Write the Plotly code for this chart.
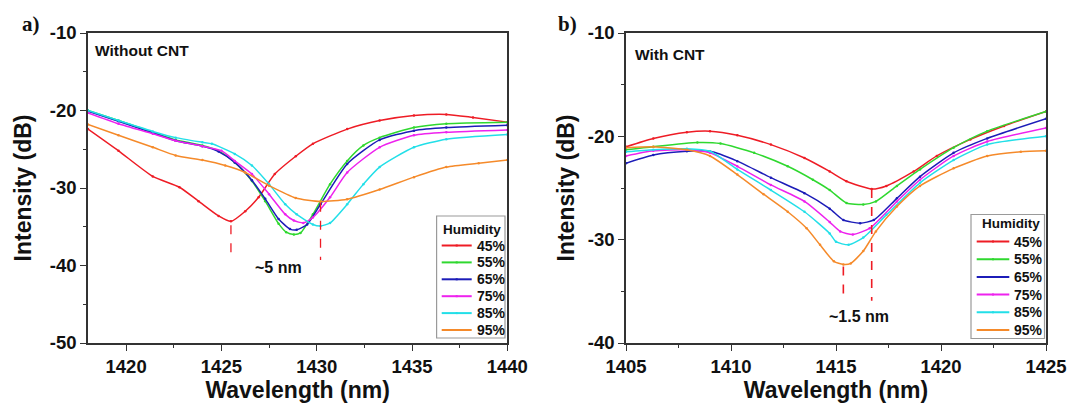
import plotly.graph_objects as go

# ---------------- data : panel a) Without CNT ----------------
humidity = ["45%", "55%", "65%", "75%", "85%", "95%"]
colors = ["#ee1c25", "#2fd82f", "#1c1cb8", "#ee22ee", "#22dfe8", "#f58a2a"]

a_x_45 = [1418, 1419.6, 1421.4, 1422.8, 1423.8, 1424.85, 1425.5, 1426.25, 1426.95, 1427.8, 1428.9, 1429.8, 1431.6, 1433.3, 1435.1, 1436.8, 1438.2, 1440]
a_y_45 = [-22.4, -25.2, -28.5, -29.9, -31.7, -33.6, -34.3, -33.0, -31.2, -28.2, -25.9, -24.3, -22.4, -21.3, -20.65, -20.5, -20.9, -21.5]

a_x_55 = [1418, 1419.6, 1421.4, 1422.6, 1424.0, 1424.85, 1425.7, 1426.6, 1427.3, 1428.0, 1428.4, 1428.8, 1429.15, 1429.8, 1430.7, 1431.6, 1432.45, 1433.3, 1435.1, 1436.8, 1440]
a_y_55 = [-20.0, -21.3, -22.8, -23.8, -24.5, -25.2, -26.7, -29.1, -31.7, -34.6, -35.7, -36.0, -35.8, -33.4, -29.5, -26.5, -24.5, -23.5, -22.2, -21.7, -21.5]

a_x_65 = [1418, 1419.6, 1421.4, 1422.6, 1424.0, 1424.85, 1425.7, 1426.6, 1427.3, 1428.0, 1428.6, 1428.95, 1429.5, 1430.2, 1431.6, 1433.3, 1435.1, 1436.8, 1440]
a_y_65 = [-20.1, -21.4, -22.9, -23.9, -24.6, -25.3, -26.7, -29.0, -31.4, -34.0, -35.3, -35.4, -34.7, -32.1, -26.9, -23.8, -22.6, -22.2, -21.9]

a_x_75 = [1418, 1419.6, 1421.4, 1422.6, 1424.0, 1425.0, 1425.7, 1426.6, 1427.5, 1428.35, 1428.8, 1429.3, 1429.8, 1430.7, 1431.6, 1433.3, 1435.1, 1436.8, 1440]
a_y_75 = [-20.3, -21.7, -23.0, -23.9, -24.6, -25.2, -26.5, -28.2, -30.8, -33.4, -34.2, -34.5, -33.8, -31.2, -28.0, -24.75, -23.2, -22.8, -22.5]

a_x_85 = [1418, 1419.6, 1421.4, 1422.6, 1424.0, 1424.5, 1425.7, 1426.6, 1427.5, 1428.35, 1428.95, 1429.8, 1430.2, 1430.7, 1431.6, 1432.45, 1433.3, 1435.1, 1436.8, 1440]
a_y_85 = [-20.0, -21.3, -22.7, -23.5, -24.1, -24.3, -25.6, -27.1, -29.5, -32.1, -33.4, -34.7, -34.9, -34.5, -32.1, -29.5, -27.3, -24.75, -23.7, -23.1]

a_x_95 = [1418, 1419.6, 1421.4, 1422.6, 1424.0, 1425.2, 1426.25, 1427.5, 1428.9, 1430.2, 1431.6, 1433.3, 1435.1, 1436.8, 1438.5, 1440]
a_y_95 = [-21.8, -23.2, -24.75, -25.8, -26.4, -27.1, -28.0, -29.7, -31.3, -31.75, -31.45, -30.2, -28.6, -27.3, -26.8, -26.4]

# ---------------- data : panel b) With CNT ----------------
b_x_45 = [1405, 1406.3, 1407.9, 1409.0, 1410.3, 1411.9, 1413.5, 1414.7, 1415.5, 1416.7, 1417.4, 1418.7, 1419.8, 1421.4, 1423.0, 1425]
b_y_45 = [-21.0, -20.2, -19.6, -19.5, -19.9, -20.8, -22.1, -23.4, -24.35, -25.1, -24.8, -23.4, -21.9, -20.3, -19.0, -17.6]

b_x_55 = [1405, 1406.3, 1408.4, 1409.5, 1411.1, 1412.7, 1413.9, 1414.7, 1415.5, 1416.3, 1416.9, 1417.9, 1419.0, 1420.6, 1422.2, 1425]
b_y_55 = [-21.3, -21.0, -20.6, -20.7, -21.6, -22.9, -24.2, -25.2, -26.45, -26.6, -26.3, -24.8, -23.2, -21.1, -19.5, -17.6]

b_x_65 = [1405, 1406.3, 1407.9, 1409.0, 1410.3, 1411.9, 1413.5, 1414.7, 1415.35, 1416.15, 1416.8, 1417.9, 1419.0, 1420.6, 1422.2, 1425]
b_y_65 = [-22.6, -21.8, -21.45, -21.45, -22.4, -24.0, -25.5, -27.0, -28.1, -28.4, -28.1, -26.0, -23.9, -21.6, -20.2, -18.3]

b_x_75 = [1405, 1406.3, 1407.9, 1409.0, 1410.3, 1411.9, 1413.5, 1414.7, 1415.2, 1415.8, 1416.6, 1417.9, 1419.0, 1420.6, 1422.2, 1425]
b_y_75 = [-21.9, -21.4, -21.3, -21.6, -22.9, -24.7, -26.3, -28.3, -29.2, -29.5, -28.9, -26.3, -24.2, -21.9, -20.5, -19.2]

b_x_85 = [1405, 1406.3, 1407.9, 1409.0, 1410.3, 1411.9, 1413.5, 1414.7, 1415.0, 1415.6, 1416.3, 1417.4, 1419.0, 1420.6, 1422.2, 1425]
b_y_85 = [-21.5, -21.3, -21.2, -21.45, -23.2, -25.2, -27.3, -29.4, -30.2, -30.5, -29.8, -27.6, -24.5, -22.3, -20.8, -20.0]

b_x_95 = [1405, 1406.3, 1407.9, 1409.0, 1410.3, 1411.55, 1412.7, 1413.6, 1414.24, 1414.9, 1415.35, 1415.7, 1416.3, 1416.9, 1417.9, 1419.0, 1420.6, 1422.2, 1423.8, 1425]
b_y_95 = [-21.1, -21.0, -21.3, -21.9, -23.7, -25.6, -27.3, -28.9, -30.5, -32.1, -32.4, -32.3, -31.1, -29.2, -26.8, -24.8, -23.1, -21.9, -21.5, -21.4]

# tick labels
a_xticks = [1420, 1425, 1430, 1435, 1440]
a_yticks = [-50, -40, -30, -20, -10]
b_xticks = [1405, 1410, 1415, 1420, 1425]
b_yticks = [-40, -30, -20, -10]

# shift markers (red dashed lines)
a_dash_x = [1425.5, 1430.2]
a_dash_y0 = [-34.8, -31.9]
a_dash_y1 = [-39.3, -39.3]
b_dash_x = [1415.35, 1416.7]
b_dash_y0 = [-32.6, -25.1]
b_dash_y1 = [-35.9, -35.9]

legend_title = "Humidity"

a_series = [(a_x_45, a_y_45), (a_x_55, a_y_55), (a_x_65, a_y_65),
            (a_x_75, a_y_75), (a_x_85, a_y_85), (a_x_95, a_y_95)]
b_series = [(b_x_45, b_y_45), (b_x_55, b_y_55), (b_x_65, b_y_65),
            (b_x_75, b_y_75), (b_x_85, b_y_85), (b_x_95, b_y_95)]

FONT = "Liberation Sans, Arial, sans-serif"
SERIF = "Liberation Serif, Times New Roman, serif"
AXC = "#333333"
TXT = "#111111"

W, H = 1070, 403
ML, MR, MT, MB = 88, 24, 33, 60
PLOT_W = W - ML - MR
dom_a = [0, (507.3 - ML) / PLOT_W]
dom_b = [(626 - ML) / PLOT_W, 1]

fig = go.Figure()

for i, (xs, ys) in enumerate(a_series):
    fig.add_trace(go.Scatter(
        x=xs, y=ys, mode="lines+markers", name=humidity[i], showlegend=False,
        line=dict(color=colors[i], width=1.5, shape="spline", smoothing=0.6),
        marker=dict(size=2.5, color=colors[i]),
        xaxis="x", yaxis="y"))

for i, (xs, ys) in enumerate(b_series):
    fig.add_trace(go.Scatter(
        x=xs, y=ys, mode="lines+markers", name=humidity[i], showlegend=False,
        line=dict(color=colors[i], width=1.5, shape="spline", smoothing=0.6),
        marker=dict(size=2.5, color=colors[i]),
        xaxis="x2", yaxis="y2"))

shapes = []
for xv, y0, y1 in zip(a_dash_x, a_dash_y0, a_dash_y1):
    shapes.append(dict(type="line", xref="x", yref="y", x0=xv, x1=xv, y0=y0, y1=y1,
                       line=dict(color="#ee1c25", width=1.3, dash="dash")))
for xv, y0, y1 in zip(b_dash_x, b_dash_y0, b_dash_y1):
    shapes.append(dict(type="line", xref="x2", yref="y2", x0=xv, x1=xv, y0=y0, y1=y1,
                       line=dict(color="#ee1c25", width=1.6, dash="dash")))

annotations = []


# ---- legend boxes (drawn in axis-domain coordinates, placed by pixel geometry) ----
def add_legend(xa, ya, px_left, px_right, box, title_pos, first_y, step, line_x, text_x):
    """xa/ya: axis names; px_left/px_right: pixel extent of the axis domain."""
    pw = px_right - px_left
    ph = (H - MB) - MT

    def fx(px):
        return (px - px_left) / pw

    def fy(py):
        return ((H - MB) - py) / ph

    xr, yr = xa + " domain", ya + " domain"
    shapes.append(dict(type="rect", xref=xr, yref=yr,
                       x0=fx(box[0]), x1=fx(box[1]), y0=fy(box[3]), y1=fy(box[2]),
                       line=dict(color="#9a9a9a", width=1.2), fillcolor="white", layer="above"))
    annotations.append(dict(text="<b>%s</b>" % legend_title, xref=xr, yref=yr,
                            x=fx(title_pos[0]), y=fy(title_pos[1]), xanchor="left", yanchor="middle",
                            showarrow=False, font=dict(family=FONT, size=13.5, color=TXT)))
    for i, lab in enumerate(humidity):
        py = first_y + i * step
        shapes.append(dict(type="line", xref=xr, yref=yr, x0=fx(line_x[0]), x1=fx(line_x[1]),
                           y0=fy(py), y1=fy(py), line=dict(color=colors[i], width=2), layer="above"))
        cx = (line_x[0] + line_x[1]) / 2
        shapes.append(dict(type="rect", xref=xr, yref=yr, x0=fx(cx - 1), x1=fx(cx + 1),
                           y0=fy(py + 1), y1=fy(py - 1), line=dict(width=0),
                           fillcolor=colors[i], layer="above"))
        annotations.append(dict(text="<b>%s</b>" % lab, xref=xr, yref=yr,
                                x=fx(text_x), y=fy(py), xanchor="left", yanchor="middle",
                                showarrow=False, font=dict(family=FONT, size=14, color=TXT)))


add_legend("x", "y", 88, 507.3, box=(436.6, 505.0, 216.0, 338.0), title_pos=(441.0, 229.5),
           first_y=245.5, step=16.9, line_x=(441.7, 471.7), text_x=474.5)
add_legend("x2", "y2", 626, 1046, box=(971.0, 1044.5, 214.5, 338.5), title_pos=(979.5, 223.5),
           first_y=241.5, step=17.7, line_x=(976.7, 1009.3), text_x=1011.5)


def bold(vals):
    return ["<b>%d</b>" % v for v in vals]


def axis(**kw):
    d = dict(
        showline=True, linecolor=AXC, linewidth=1.5, mirror=True,
        ticks="outside", ticklen=6, tickwidth=1.3, tickcolor=AXC,
        showgrid=False, zeroline=False, automargin=False,
        tickfont=dict(family=FONT, size=18.5, color=TXT),
    )
    d.update(kw)
    return d


title_font = dict(family=FONT, size=23, color=TXT)
minor_style = dict(ticks="outside", ticklen=3.5, tickwidth=1.2, tickcolor=AXC, showgrid=False)

fig.update_layout(
    width=W, height=H,
    margin=dict(l=ML, r=MR, t=MT, b=MB),
    paper_bgcolor="white", plot_bgcolor="white",
    showlegend=False,
    xaxis=axis(domain=dom_a, range=[1418, 1440],
               tickmode="array", tickvals=a_xticks, ticktext=bold(a_xticks),
               minor=dict(dtick=2.5, tick0=1417.5, **minor_style),
               title=dict(text="<b>Wavelength (nm)</b>", font=title_font, standoff=6),
               anchor="y"),
    yaxis=axis(domain=[0, 1], range=[-50, -10],
               tickmode="array", tickvals=a_yticks, ticktext=bold(a_yticks),
               minor=dict(dtick=5, tick0=-50, **minor_style),
               title=dict(text="<b>Intensity (dB)</b>", font=title_font, standoff=12),
               anchor="x"),
    xaxis2=axis(domain=dom_b, range=[1405, 1425],
                tickmode="array", tickvals=b_xticks, ticktext=bold(b_xticks),
                minor=dict(dtick=2.5, tick0=1405, **minor_style),
                title=dict(text="<b>Wavelength (nm)</b>", font=title_font, standoff=6),
                anchor="y2"),
    yaxis2=axis(domain=[0, 1], range=[-40, -10],
                tickmode="array", tickvals=b_yticks, ticktext=bold(b_yticks),
                minor=dict(dtick=5, tick0=-40, **minor_style),
                title=dict(text="<b>Intensity (dB)</b>", font=title_font, standoff=7),
                anchor="x2"),
    shapes=shapes,
)

ann_font = dict(family=FONT, size=15.5, color=TXT)
annotations += [
    dict(text="<b>Without CNT</b>", xref="x domain", yref="y domain", x=0.012, y=0.945,
         xanchor="left", yanchor="middle", showarrow=False, font=ann_font),
    dict(text="<b>With CNT</b>", xref="x2 domain", yref="y2 domain", x=0.016, y=0.93,
         xanchor="left", yanchor="middle", showarrow=False, font=ann_font),
    dict(text="<b>~5 nm</b>", xref="x", yref="y", x=1428.0, y=-40.3,
         showarrow=False, font=dict(family=FONT, size=16, color=TXT)),
    dict(text="<b>~1.5 nm</b>", xref="x2", yref="y2", x=1416.1, y=-37.4,
         showarrow=False, font=dict(family=FONT, size=16, color=TXT)),
    dict(text="<b>a)</b>", xref="paper", yref="paper", x=-0.059, y=1.029,
         xanchor="center", yanchor="middle", showarrow=False,
         font=dict(family=SERIF, size=21, color=TXT)),
    dict(text="<b>b)</b>", xref="paper", yref="paper", x=0.501, y=1.029,
         xanchor="center", yanchor="middle", showarrow=False,
         font=dict(family=SERIF, size=21, color=TXT)),
]
fig.update_layout(annotations=annotations)

fig.write_html("out.html", config={"displayModeBar": False},
               post_script="document.body.style.margin='0px';")
